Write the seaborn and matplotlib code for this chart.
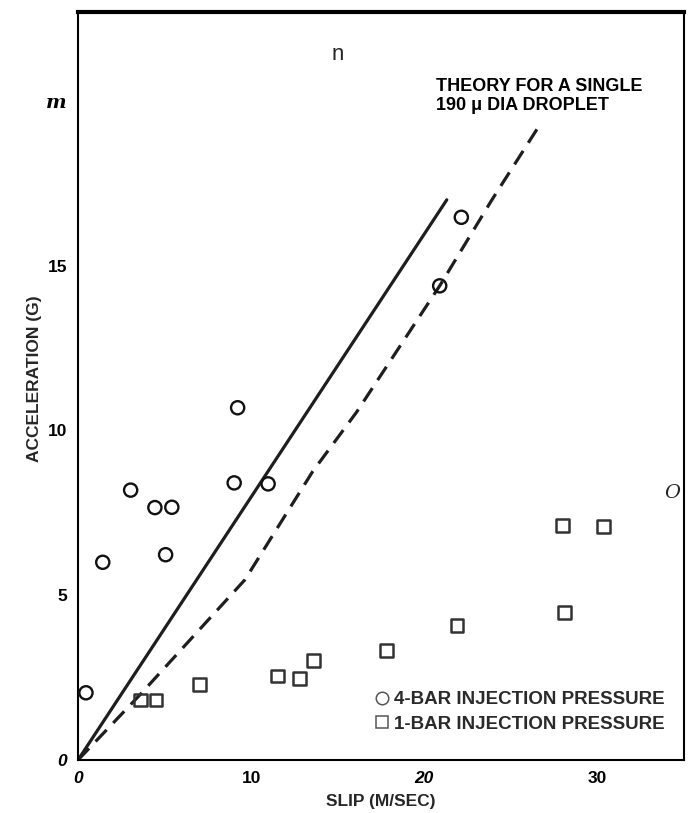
import numpy as np
import pandas as pd
import matplotlib
matplotlib.use("Agg")
import matplotlib.pyplot as plt
import seaborn as sns
from matplotlib.lines import Line2D

# ---- data ----
bar4_slip = [0.46, 1.43, 3.04, 4.44, 5.42, 5.06, 9.22, 9.02, 10.98, 20.89, 22.14]
bar4_acc = [2.04, 6.0, 8.19, 7.66, 7.67, 6.23, 10.69, 8.41, 8.38, 14.39, 16.47]

bar1_slip = [3.62, 4.50, 7.04, 11.52, 12.81, 13.58, 17.81, 21.89, 28.10, 27.97, 30.37]
bar1_acc = [1.82, 1.82, 2.30, 2.55, 2.48, 3.01, 3.32, 4.08, 4.48, 7.11, 7.09]

fit_slip = [0.0, 21.3]
fit_acc = [0.0, 17.0]

theory_slip = [0.0, 3.58, 9.64, 13.56, 16.08, 20.89, 23.87, 26.76]
theory_acc = [0.0, 1.98, 5.47, 8.76, 10.55, 14.39, 16.97, 19.35]

xticks = [0, 10, 20, 30]
xticklabels = ["0", "10", "20", "30"]
yticks = [0, 5, 10, 15, 20]
yticklabels = ["0", "5", "10", "15", "m"]

sns.set_theme(style="white")
plt.rcParams["font.family"] = ["Liberation Sans", "DejaVu Sans"]

fig = plt.figure(figsize=(6.92, 8.13), dpi=100)
ax = fig.add_axes([78/692, 53/813, (684-78)/692, (760-12)/813])

sns.lineplot(x=fit_slip, y=fit_acc, ax=ax, color="#1e1e1e", lw=2.3,
             sort=False, estimator=None)
sns.lineplot(x=theory_slip, y=theory_acc, ax=ax, color="#1e1e1e", lw=2.3,
             sort=False, estimator=None, linestyle=(0, (5, 3)))

sns.scatterplot(x=bar4_slip, y=bar4_acc, ax=ax, marker="o", s=90,
                facecolors="none", edgecolor="#111111", linewidth=1.7, zorder=3)
sns.scatterplot(x=bar1_slip, y=bar1_acc, ax=ax, marker="s", s=85,
                facecolors="none", edgecolor="#333333", linewidth=1.8, zorder=3)

ax.set_xlim(0, 35)
ax.set_ylim(0, 22.7)

ax.set_xticks(xticks)
ax.set_xticklabels(xticklabels, fontsize=12.5, fontweight="bold")
ax.set_yticks(yticks)
ax.set_yticklabels(yticklabels, fontsize=12.5, fontweight="bold")
for lab in ax.get_xticklabels():
    if lab.get_text() in ("0", "20"):
        lab.set_fontstyle("italic")
for lab in ax.get_yticklabels():
    if lab.get_text() == "0":
        lab.set_fontstyle("italic")
    if lab.get_text() == "m":
        lab.set_fontstyle("italic")
        lab.set_family("DejaVu Serif")
        lab.set_fontsize(14)

ax.tick_params(axis="x", direction="in", length=10, width=1.5, pad=8, colors="black")
ax.tick_params(axis="y", direction="in", length=14, width=1.5, pad=8, colors="black")

for side, sp in ax.spines.items():
    sp.set_visible(True)
    sp.set_color("black")
    sp.set_linewidth(1.5)
ax.spines["top"].set_linewidth(3)

ax.set_xlabel("SLIP (M/SEC)", fontsize=12.5, fontweight="bold", labelpad=6)
ax.set_ylabel("ACCELERATION (G)", fontsize=12.5, fontweight="bold")
ax.yaxis.set_label_coords(-0.06, 0.51)

ax.text(20.7, 20.15, "THEORY FOR A SINGLE\n190 \u03bc DIA DROPLET", fontsize=13,
        fontweight="bold", ha="left", va="center", linespacing=1.15, color="black")
ax.text(15.0, 21.4, "n", fontsize=16, ha="center", va="center")
ax.text(34.3, 8.1, "O", fontsize=14, fontstyle="italic", family="DejaVu Serif",
        ha="center", va="center")

handles = [
    Line2D([], [], marker="o", linestyle="none", markerfacecolor="none",
           markeredgecolor="#555555", markersize=9, markeredgewidth=1.1),
    Line2D([], [], marker="s", linestyle="none", markerfacecolor="none",
           markeredgecolor="#555555", markersize=8, markeredgewidth=1.1),
]
leg = ax.legend(handles, ["4-BAR INJECTION PRESSURE", "1-BAR INJECTION PRESSURE"],
                loc="lower right", bbox_to_anchor=(0.996, 0.014), frameon=False,
                handletextpad=0.25, handlelength=0.8, labelspacing=0.38,
                prop={"weight": "bold", "size": 13.5})
for t in leg.get_texts():
    t.set_color("#2a2a2a")

fig.savefig("out.png", dpi=100, facecolor="white")
